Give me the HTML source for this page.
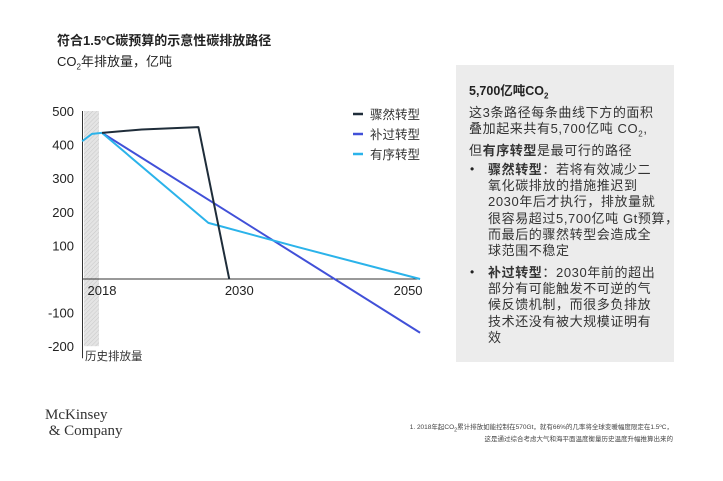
<!DOCTYPE html>
<html><head><meta charset="utf-8"><style>
body{margin:0;width:723px;height:481px;background:#fff;position:relative;overflow:hidden;font-family:"Liberation Sans","Noto Sans CJK SC",sans-serif;color:#222}
.a{position:absolute;white-space:nowrap}
#panel{position:absolute;left:456px;top:65px;width:218px;height:297px;background:#ececec}
#panel p{margin:0;font-size:13px;line-height:16.2px;color:#333;white-space:nowrap;letter-spacing:0.6px}
</style></head><body>
<div class="a" style="left:57px;top:30px;font-size:13px;font-weight:bold">符合1.5ºC碳预算的示意性碳排放路径</div>
<div class="a" style="left:57px;top:51px;font-size:13px">CO<sub style="font-size:8px">2</sub>年排放量，亿吨</div>
<svg id="chart" width="450" height="380" style="position:absolute;left:0;top:0" font-family="Liberation Sans, Noto Sans CJK SC, sans-serif"></svg>
<div id="panel">
 <div class="a" style="left:13px;top:15px;font-size:12.5px;font-weight:bold">5,700亿吨CO<sub style="font-size:8px">2</sub></div>
 <p style="position:absolute;left:13px;top:40px">这3条路径每条曲线下方的面积<br>叠加起来共有5,700亿吨 CO<sub style="font-size:8px">2</sub>,<br>但<b>有序转型</b>是最可行的路径</p>
 <div class="a" style="left:14px;top:97px;font-size:12px">•</div>
 <p style="position:absolute;left:32px;top:97px"><b>骤然转型</b>：若将有效减少二<br>氧化碳排放的措施推迟到<br>2030年后才执行，排放量就<br>很容易超过5,700亿吨 Gt预算，<br>而最后的骤然转型会造成全<br>球范围不稳定</p>
 <div class="a" style="left:14px;top:200px;font-size:12px">•</div>
 <p style="position:absolute;left:32px;top:200px"><b>补过转型</b>：2030年前的超出<br>部分有可能触发不可逆的气<br>候反馈机制，而很多负排放<br>技术还没有被大规模证明有<br>效</p>
</div>
<div class="a" style="left:45px;top:407px;font-family:'Liberation Serif',serif;font-size:15px;line-height:16px;color:#333">McKinsey<br>&nbsp;&amp; Company</div>
<div class="a" style="right:50px;top:423px;font-size:6.5px;line-height:10px;text-align:right;color:#444">1. 2018年起CO<sub>2</sub>累计排放如能控制在570Gt，就有66%的几率将全球变暖幅度限定在1.5ºC，<br>这是通过综合考虑大气和海平面温度衡量历史温度升幅推算出来的</div>
<script>
const ns="http://www.w3.org/2000/svg";
const svg=document.getElementById('chart');
const yTicks=[500,400,300,200,100,-100,-200];
const xTicks=[2018,2030,2050];
const historyYears=[2016,2017,2018];
const historyVals=[410,432,435];
const abruptYears=[2018,2022,2027.7,2030.8];
const abruptVals=[435,445,452,0];
const overshootYears=[2018,2050];
const overshootVals=[435,-160];
const orderlyYears=[2018,2028.7,2037.7,2050];
const orderlyVals=[435,167,95,0];
const seriesNames=["骤然转型","补过转型","有序转型"];
const colors=["#1f2d3a","#4150d8","#2bb3ea"];
function X(yr){return 102+(yr-2018)*9.94;}
function Y(v){return 279-v*0.336;}
function mk(t,a){const e=document.createElementNS(ns,t);for(const k in a)e.setAttribute(k,a[k]);svg.appendChild(e);return e;}
const defs=mk('defs',{});
defs.innerHTML='<pattern id="h" width="3" height="3" patternUnits="userSpaceOnUse" patternTransform="rotate(45)"><rect width="3" height="3" fill="#e4e4e4"/><line x1="0" y1="0" x2="0" y2="3" stroke="#c8c8c8" stroke-width="1"/></pattern>';
let r=mk('rect',{x:84,y:Y(500),width:15,height:Y(-200)-Y(500),fill:'url(#h)'});


let ax=mk('line',{x1:82.5,y1:Y(500),x2:82.5,y2:Y(-200)+12,stroke:'#333','stroke-width':1});


let zl=mk('line',{x1:82,y1:Y(0),x2:420,y2:Y(0),stroke:'#333','stroke-width':1});


yTicks.forEach(v=>{const t=mk('text',{x:74,y:Y(v)+5,'text-anchor':'end','font-size':13,fill:'#222'});t.textContent=v;

});
const xLabelShift=[0,18,-12];
xTicks.forEach((v,i)=>{const t=mk('text',{x:X(v)+xLabelShift[i],y:Y(0)+16,'text-anchor':'middle','font-size':13,fill:'#222'});t.textContent=v;

});
let hl=mk('text',{x:85,y:Y(-200)+14,'font-size':11.5,fill:'#333'});hl.textContent='历史排放量';


function line(xs,vs,c,name){const p=mk('polyline',{points:xs.map((x,i)=>X(x)+','+Y(vs[i])).join(' '),fill:'none',stroke:c,'stroke-width':2,'stroke-linejoin':'round'});

}
line(overshootYears,overshootVals,colors[1],'overshoot-line');
line(orderlyYears,orderlyVals,colors[2],'orderly-line');
line(abruptYears,abruptVals,colors[0],'abrupt-line');
line(historyYears,historyVals,colors[2],'history-line');
seriesNames.forEach((n,i)=>{const y=114+i*20;
const l=mk('line',{x1:353,y1:y,x2:363,y2:y,stroke:colors[i],'stroke-width':2.5});


const t=mk('text',{x:370,y:y+5,'font-size':12.5,fill:'#333'});t.textContent=n;

});
</script>
</body></html>
